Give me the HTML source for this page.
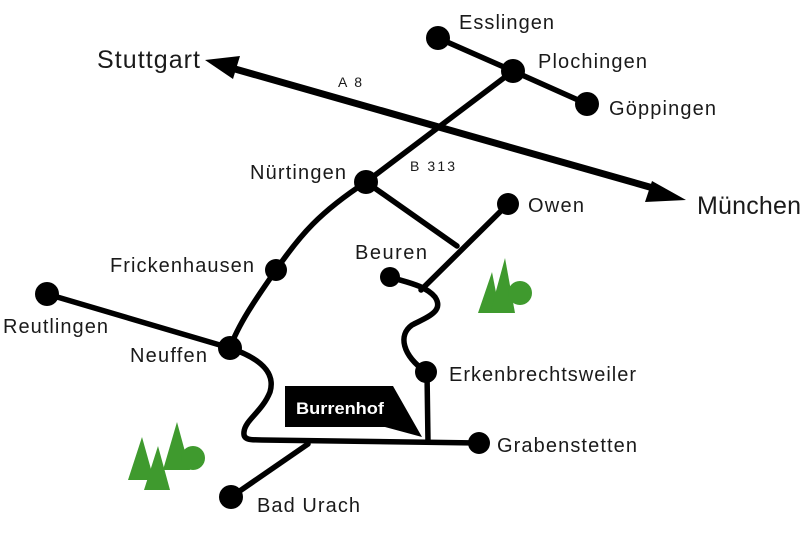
<!DOCTYPE html>
<html><head><meta charset="utf-8"><style>
html,body{margin:0;padding:0;background:#fff;}
svg{display:block;}
text{font-family:"Liberation Sans",Arial,sans-serif;fill:#1a1a1a;}
</style></head><body>
<svg width="810" height="549" viewBox="0 0 810 549" xmlns="http://www.w3.org/2000/svg">
<g stroke="#000" fill="none" stroke-linecap="round" stroke-linejoin="round">
  <line x1="228" y1="67" x2="660" y2="190" stroke-width="7"/>
  <g stroke-width="5.5">
    <polyline points="438,38 513,71 587,104"/>
    <line x1="513" y1="71" x2="366" y2="182"/>
    <line x1="366" y1="182" x2="457" y2="246"/>
    <line x1="508" y1="204" x2="421" y2="290"/>
    <path d="M390,277 C405,282 425,285 435,297 C445,312 425,318 412,325 C398,335 402,355 426,372"/>
    <line x1="427" y1="372" x2="428" y2="442"/>
    <path d="M366,182 C320,212 300,235 276,270 C255,300 238,325 230,348"/>
    <line x1="47" y1="294" x2="230" y2="348"/>
    <path d="M230,348 C265,360 275,375 270,392 C262,412 245,420 244,432 C243,440 250,440 262,440 L479,443"/>
    <line x1="231" y1="497" x2="308" y2="444"/>
  </g>
</g>
<polygon points="205,60 240,56 233,79" fill="#000"/>
<polygon points="686,200 652,181 645,202" fill="#000"/>
<g fill="#000">
  <circle cx="438" cy="38" r="12"/>
  <circle cx="513" cy="71" r="12"/>
  <circle cx="587" cy="104" r="12"/>
  <circle cx="366" cy="182" r="12"/>
  <circle cx="508" cy="204" r="11"/>
  <circle cx="390" cy="277" r="10"/>
  <circle cx="276" cy="270" r="11"/>
  <circle cx="47" cy="294" r="12"/>
  <circle cx="230" cy="348" r="12"/>
  <circle cx="426" cy="372" r="11"/>
  <circle cx="479" cy="443" r="11"/>
  <circle cx="231" cy="497" r="12"/>
</g>
<polygon points="285,386 393,386 422,437 385,427 285,427" fill="#000"/>
<text x="296" y="414" font-size="17" font-weight="bold" style="fill:#fff" textLength="88" lengthAdjust="spacingAndGlyphs">Burrenhof</text>
<g fill="#3f9a2e">
  <polygon points="478,313 492,272 500,313"/>
  <polygon points="490,313 505,258 515,313"/>
  <circle cx="520" cy="293" r="12"/>
  <polygon points="128,480 142,437 154,480"/>
  <polygon points="144,490 158,446 170,490"/>
  <polygon points="163,470 177,422 190,470"/>
  <circle cx="193" cy="458" r="12"/>
</g>
<g font-size="20" lengthAdjust="spacingAndGlyphs">
  <text x="97" y="68" font-size="25" textLength="103">Stuttgart</text>
  <text x="697" y="214" font-size="25" textLength="104">München</text>
  <text x="459" y="29" textLength="95">Esslingen</text>
  <text x="538" y="68" textLength="109">Plochingen</text>
  <text x="609" y="115" textLength="107">Göppingen</text>
  <text x="250" y="179" textLength="96">Nürtingen</text>
  <text x="528" y="212" textLength="56">Owen</text>
  <text x="355" y="259" textLength="72">Beuren</text>
  <text x="110" y="272" textLength="144">Frickenhausen</text>
  <text x="3" y="333" textLength="105">Reutlingen</text>
  <text x="130" y="362" textLength="77">Neuffen</text>
  <text x="449" y="381" textLength="187">Erkenbrechtsweiler</text>
  <text x="497" y="452" textLength="140">Grabenstetten</text>
  <text x="257" y="512" textLength="103">Bad Urach</text>
  <text x="338" y="87" font-size="14" textLength="24">A 8</text>
  <text x="410" y="171" font-size="14" textLength="45">B 313</text>
</g>
</svg>
</body></html>
